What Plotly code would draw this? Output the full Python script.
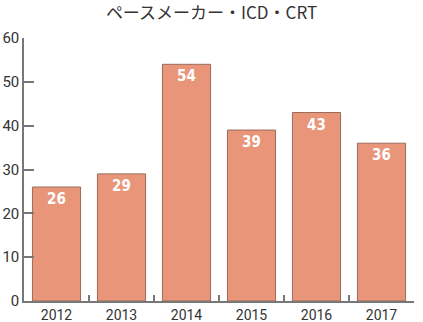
import plotly.graph_objects as go

years = ["2012", "2013", "2014", "2015", "2016", "2017"]
values = [26, 29, 54, 39, 43, 36]
title = "ペースメーカー・ICD・CRT"
y_ticks = [0, 10, 20, 30, 40, 50, 60]

fig = go.Figure(go.Bar(
    x=years, y=values,
    text=[str(v) for v in values],
    textposition="inside", insidetextanchor="end",
    textfont=dict(family="DejaVu Sans Condensed", size=15, color="white", weight="bold"),
    marker=dict(color="#E8957A", line=dict(color="#9a6a5a", width=1)),
    cliponaxis=False,
))

fig.update_layout(
    width=423, height=322,
    margin=dict(l=24, r=9, t=38, b=21),
    paper_bgcolor="white", plot_bgcolor="white",
    bargap=0.26,
    showlegend=False,
    title=dict(text=title, x=0.5, xanchor="center", y=0.96, yanchor="middle",
               font=dict(family="Noto Sans CJK JP", size=17, color="#333")),
    font=dict(family="Roboto", color="#333", size=15),
)
fig.update_xaxes(
    automargin=False,
    showline=True, linecolor="#777", linewidth=1.5,
    ticks="inside", tickson="boundaries", ticklen=6, tickcolor="#777", tickwidth=1.5,
    showgrid=False, tickfont=dict(family="Roboto", size=14, color="#333"),
)
fig.update_yaxes(
    automargin=False,
    range=[0, 60], tickvals=y_ticks,
    showline=True, linecolor="#777", linewidth=1.5,
    ticks="inside", ticklen=10, tickcolor="#777", tickwidth=1.5,
    showgrid=False, zeroline=False, tickfont=dict(family="Roboto", size=15, color="#333"),
)
fig.write_html("out.html")
